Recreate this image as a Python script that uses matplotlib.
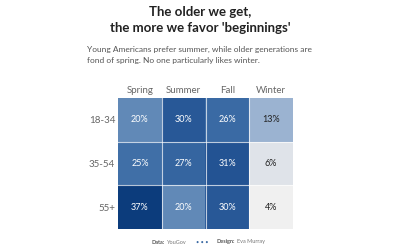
import matplotlib
matplotlib.use("Agg")
import matplotlib.pyplot as plt
import numpy as np
from matplotlib.colors import LinearSegmentedColormap

seasons = ["Spring", "Summer", "Fall", "Winter"]
age_groups = ["18-34", "35-54", "55+"]
values = np.array([
    [20, 30, 26, 13],
    [25, 27, 31, 6],
    [37, 20, 30, 4],
])

stops = [(4, "#f0f0f0"), (6, "#dfe3e9"), (13, "#9bb3d1"), (20, "#628ab8"),
         (26, "#3a6aa4"), (31, "#245494"), (37, "#0c3c7c")]
vmin, vmax = 4, 37
cmap = LinearSegmentedColormap.from_list(
    "yg", [((v - vmin) / (vmax - vmin), c) for v, c in stops])

plt.rcParams['font.family'] = ['Lato', 'DejaVu Sans']
fig = plt.figure(figsize=(4, 2.5), dpi=100)
ax = fig.add_axes([0.295, 0.084, 0.4375, 0.524])
ax.imshow(values, cmap=cmap, vmin=vmin, vmax=vmax, aspect='auto')
for i in range(values.shape[0]):
    for j in range(values.shape[1]):
        v = values[i, j]
        ax.text(j, i, f"{v}%", ha='center', va='center', fontsize=6.5,
                color='white' if v >= 20 else '#222222')
for k in range(1, len(seasons)):
    ax.axvline(k - 0.5, color='white', lw=0.8, alpha=0.7)
for k in range(1, len(age_groups)):
    ax.axhline(k - 0.5, color='white', lw=0.8, alpha=0.7)
ax.set_xticks(range(len(seasons)))
ax.set_xticklabels(seasons)
ax.set_yticks(range(len(age_groups)))
ax.set_yticklabels(age_groups)
ax.xaxis.tick_top()
ax.tick_params(length=0, labelsize=7, colors='#666666', pad=2)
for s in ax.spines.values():
    s.set_visible(False)

fig.text(0.5, 0.975, "The older we get,\nthe more we favor 'beginnings'",
         ha='center', va='top', fontsize=9.5, fontweight='bold', color='#222222',
         linespacing=1.35)
fig.text(0.2175, 0.815, "Young Americans prefer summer, while older generations are\nfond of spring. No one particularly likes winter.",
         ha='left', va='top', fontsize=6, color='#555555', linespacing=1.65)

fy = 0.032
fs = 4
parts = [("Data:", 'bold', '#555555', 0),
         ("YouGov", 'normal', '#777777', 2),
         ("• • •", 'normal', '#3a6aa4', 9),
         ("Design:", 'normal', '#555555', 8),
         ("Eva Murray", 'normal', '#777777', 2)]
prev = fig.text(0.38, fy, parts[0][0], ha='left', va='center', fontsize=fs,
                fontweight=parts[0][1], color=parts[0][2])
for txt, wt, col, gap in parts[1:]:
    if txt == "Design:":
        wt = 'bold'
    prev = fig.text(0, 0, "")  if False else plt.annotate(
        txt, xy=(1, 0.5), xycoords=prev, xytext=(gap, 0), textcoords='offset pixels',
        ha='left', va='center', fontsize=fs, fontweight=wt, color=col,
        annotation_clip=False)
fig.savefig("out.png", dpi=100, facecolor='white')
